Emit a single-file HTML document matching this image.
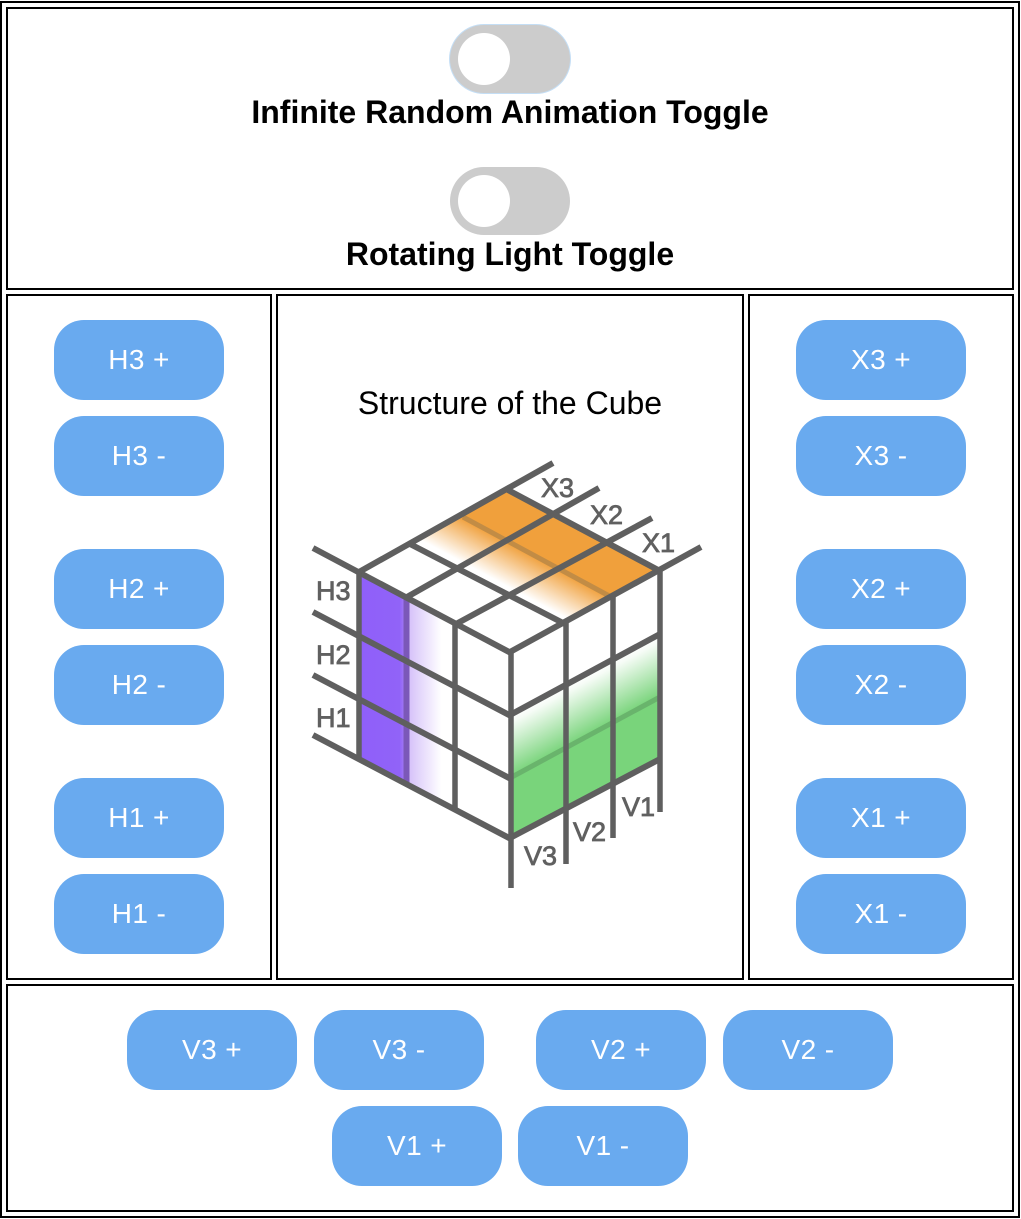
<!DOCTYPE html>
<html lang="en">
<head>
<meta charset="utf-8">
<title>Cube Controls</title>
<style>
html,body{margin:0;padding:0;background:#fff;}
body{position:relative;width:1021px;height:1219px;overflow:hidden;font-family:"Liberation Sans",Arial,sans-serif;}
.box{position:absolute;box-sizing:border-box;border:2px solid #000;}
.btn{position:absolute;width:170px;height:80px;border-radius:30px;background:#69aaef;color:#fff;font-size:28px;letter-spacing:.4px;line-height:80px;text-align:center;}
.tog{position:absolute;left:450px;width:120px;height:68px;border-radius:34px;background:#ccc;}
.tog i{position:absolute;left:8px;top:8px;width:52px;height:52px;border-radius:50%;background:#fff;}
.lab{position:absolute;left:6px;width:1008px;text-align:center;font-weight:bold;font-size:32px;line-height:36px;color:#000;}
.title{position:absolute;left:276px;width:468px;text-align:center;font-size:32px;line-height:36px;color:#000;}
svg{position:absolute;left:0;top:0;}
</style>
</head>
<body>
<div class="box" style="left:0;top:1px;width:1020px;height:1217px"></div>
<div class="box" style="left:6px;top:7px;width:1008px;height:283px"></div>
<div class="box" style="left:6px;top:294px;width:266px;height:686px"></div>
<div class="box" style="left:276px;top:294px;width:468px;height:686px"></div>
<div class="box" style="left:748px;top:294px;width:266px;height:686px"></div>
<div class="box" style="left:6px;top:984px;width:1008px;height:228px"></div>

<div class="tog" style="top:25px;box-shadow:0 0 0 1px #c4def5"><i></i></div>
<div class="lab" style="top:94px">Infinite Random Animation Toggle</div>
<div class="tog" style="top:167px"><i></i></div>
<div class="lab" style="top:236px">Rotating Light Toggle</div>

<div class="title" style="top:385px">Structure of the Cube</div>

<div class="btn" style="left:54px;top:320px">H3 +</div>
<div class="btn" style="left:54px;top:416px">H3 -</div>
<div class="btn" style="left:54px;top:549px">H2 +</div>
<div class="btn" style="left:54px;top:645px">H2 -</div>
<div class="btn" style="left:54px;top:778px">H1 +</div>
<div class="btn" style="left:54px;top:874px">H1 -</div>

<div class="btn" style="left:796px;top:320px">X3 +</div>
<div class="btn" style="left:796px;top:416px">X3 -</div>
<div class="btn" style="left:796px;top:549px">X2 +</div>
<div class="btn" style="left:796px;top:645px">X2 -</div>
<div class="btn" style="left:796px;top:778px">X1 +</div>
<div class="btn" style="left:796px;top:874px">X1 -</div>

<div class="btn" style="left:127px;top:1010px">V3 +</div>
<div class="btn" style="left:314px;top:1010px">V3 -</div>
<div class="btn" style="left:536px;top:1010px">V2 +</div>
<div class="btn" style="left:723px;top:1010px">V2 -</div>
<div class="btn" style="left:332px;top:1106px">V1 +</div>
<div class="btn" style="left:518px;top:1106px">V1 -</div>

<svg width="1021" height="1219" viewBox="0 0 1021 1219">
<defs>
<linearGradient id="gg" gradientUnits="userSpaceOnUse" x1="585" y1="675" x2="611" y2="723">
<stop offset="0" stop-color="#fff"/><stop offset=".12" stop-color="#f6fcf6"/><stop offset="1" stop-color="#79d47b"/>
</linearGradient>
<linearGradient id="og" gradientUnits="userSpaceOnUse" x1="538" y1="558" x2="516" y2="599">
<stop offset="0" stop-color="#f0a03c"/><stop offset=".85" stop-color="#fff"/>
</linearGradient>
<linearGradient id="pg" gradientUnits="userSpaceOnUse" x1="359" y1="0" x2="456" y2="0">
<stop offset="0" stop-color="#8f5ffa"/><stop offset=".42" stop-color="#9163f8"/><stop offset=".48" stop-color="#a67ff3"/><stop offset=".5" stop-color="#d4bff9"/><stop offset=".85" stop-color="#fff"/>
</linearGradient>
</defs>

<polygon points="359,572 456,624 456,810 359,758" fill="url(#pg)"/>
<polygon points="508,490 659,571 563,623 412,545" fill="url(#og)"/>
<polygon points="510,715 660,634 660,757 510,838" fill="url(#gg)"/>
<polygon points="510,778 660,697 660,757 510,838" fill="#79d47b"/>

<line x1="406.500" y1="597" x2="406.500" y2="785" stroke="#7b58b8" stroke-width="6"/>
<line x1="463" y1="517" x2="613" y2="598" stroke="#c28c45" stroke-width="5"/>
<line x1="510" y1="778" x2="660" y2="697" stroke="#69b46c" stroke-width="5"/>

<g stroke="#5f5f5f" stroke-width="6" fill="none">
<line x1="359" y1="572" x2="553" y2="463"/>
<line x1="407" y1="597" x2="599" y2="488"/>
<line x1="456" y1="624" x2="652" y2="518"/>
<line x1="510" y1="652" x2="701" y2="547"/>
<line x1="410" y1="544" x2="565" y2="624"/>
<line x1="508" y1="490" x2="660" y2="571"/>
<line x1="313" y1="548" x2="511" y2="653"/>
<line x1="313" y1="612" x2="511" y2="716"/>
<line x1="313" y1="675" x2="511" y2="779"/>
<line x1="313" y1="735" x2="511" y2="839"/>
<line x1="510" y1="715" x2="660" y2="634"/>
<line x1="510" y1="838" x2="660" y2="759"/>
</g>
<g stroke="#5f5f5f" stroke-width="5.500" fill="none">
<line x1="359" y1="572" x2="359" y2="758"/>
<line x1="455" y1="624" x2="455" y2="810"/>
<line x1="511" y1="652" x2="511" y2="888"/>
<line x1="566" y1="623" x2="566" y2="864"/>
<line x1="613" y1="597" x2="613" y2="838"/>
<line x1="660" y1="571" x2="660" y2="812"/>
</g>

<g font-family="'Liberation Sans',Arial,sans-serif" font-size="27" fill="#606060" stroke="#606060" stroke-width=".8">
<text x="316" y="600">H3</text>
<text x="316" y="664">H2</text>
<text x="316" y="727">H1</text>
<text x="541" y="497">X3</text>
<text x="590" y="524">X2</text>
<text x="642" y="552">X1</text>
<text x="622" y="816">V1</text>
<text x="573" y="841">V2</text>
<text x="524" y="865">V3</text>
</g>
</svg>
</body>
</html>
